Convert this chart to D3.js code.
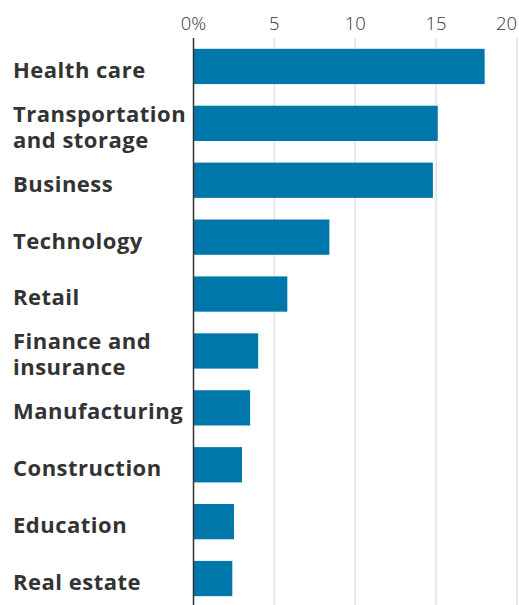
<!DOCTYPE html>
<html>
<head>
<meta charset="utf-8">
<script src="https://cdn.jsdelivr.net/npm/d3@7"></script>
<style>
  html, body { margin: 0; padding: 0; background: #fff; }
  svg { display: block; }
</style>
</head>
<body>
<svg id="chart" width="519" height="605"></svg>
<script>
// Industry categories (label lines) and their shares, in percent
const categories = [
  ["Health care"],
  ["Transportation", "and storage"],
  ["Business"],
  ["Technology"],
  ["Retail"],
  ["Finance and", "insurance"],
  ["Manufacturing"],
  ["Construction"],
  ["Education"],
  ["Real estate"]
];
const values = [18.0, 15.1, 14.8, 8.4, 5.8, 4.0, 3.5, 3.0, 2.5, 2.4];
const tickValues = [0, 5, 10, 15, 20];
const tickLabels = ["0%", "5", "10", "15", "20"];

const width = 519, height = 605;
const margin = { top: 38, right: 2, bottom: -2, left: 193.5 };

const svg = d3.select("#chart");

const keys = categories.map(c => c.join(" "));

const x = d3.scaleLinear()
  .domain([0, 20])
  .range([margin.left, width - margin.right]);

const y = d3.scaleBand()
  .domain(keys)
  .range([margin.top, height - margin.bottom])
  .paddingInner(0.38)
  .paddingOuter(0.19);

// Vertical gridlines
svg.append("g")
  .selectAll("line")
  .data(tickValues.filter(d => d !== 0))
  .join("line")
  .attr("x1", d => x(d)).attr("x2", d => x(d))
  .attr("y1", margin.top).attr("y2", height)
  .attr("stroke", "#e2e2e2")
  .attr("stroke-width", 1.5);

// Tick labels across the top
svg.append("g")
  .selectAll("text")
  .data(tickValues)
  .join("text")
  .attr("x", d => x(d))
  .attr("y", 30)
  .attr("text-anchor", (d, i) => i === tickValues.length - 1 ? "end" : "middle")
  .attr("font-family", "'Open Sans', sans-serif")
  .attr("font-weight", 300)
  .attr("font-size", 18.5)
  .attr("fill", "#333")
  .text((d, i) => tickLabels[i]);

// Bars
svg.append("g")
  .selectAll("rect")
  .data(values)
  .join("rect")
  .attr("x", x(0))
  .attr("y", (d, i) => y(keys[i]))
  .attr("width", d => x(d) - x(0))
  .attr("height", y.bandwidth())
  .attr("fill", "#0077ab");

// Zero baseline
svg.append("line")
  .attr("x1", x(0)).attr("x2", x(0))
  .attr("y1", margin.top).attr("y2", height)
  .attr("stroke", "#333")
  .attr("stroke-width", 1.5);

// Category labels
const lineH = 26;
const labels = svg.append("g")
  .attr("font-family", "'Open Sans', sans-serif")
  .attr("font-weight", 700)
  .attr("font-size", 22)
  .attr("letter-spacing", 0.5)
  .attr("fill", "#333");

categories.forEach((lines, i) => {
  const cy = y(keys[i]) + y.bandwidth() / 2 + 3.5;
  const t = labels.append("text")
    .attr("x", 13)
    .attr("y", cy - (lines.length - 1) * lineH / 2)
    .attr("dy", "0.36em");
  lines.forEach((ln, j) => {
    t.append("tspan")
      .attr("x", 13)
      .attr("dy", j === 0 ? "0.36em" : lineH)
      .text(ln);
  });
});
</script>
</body>
</html>
